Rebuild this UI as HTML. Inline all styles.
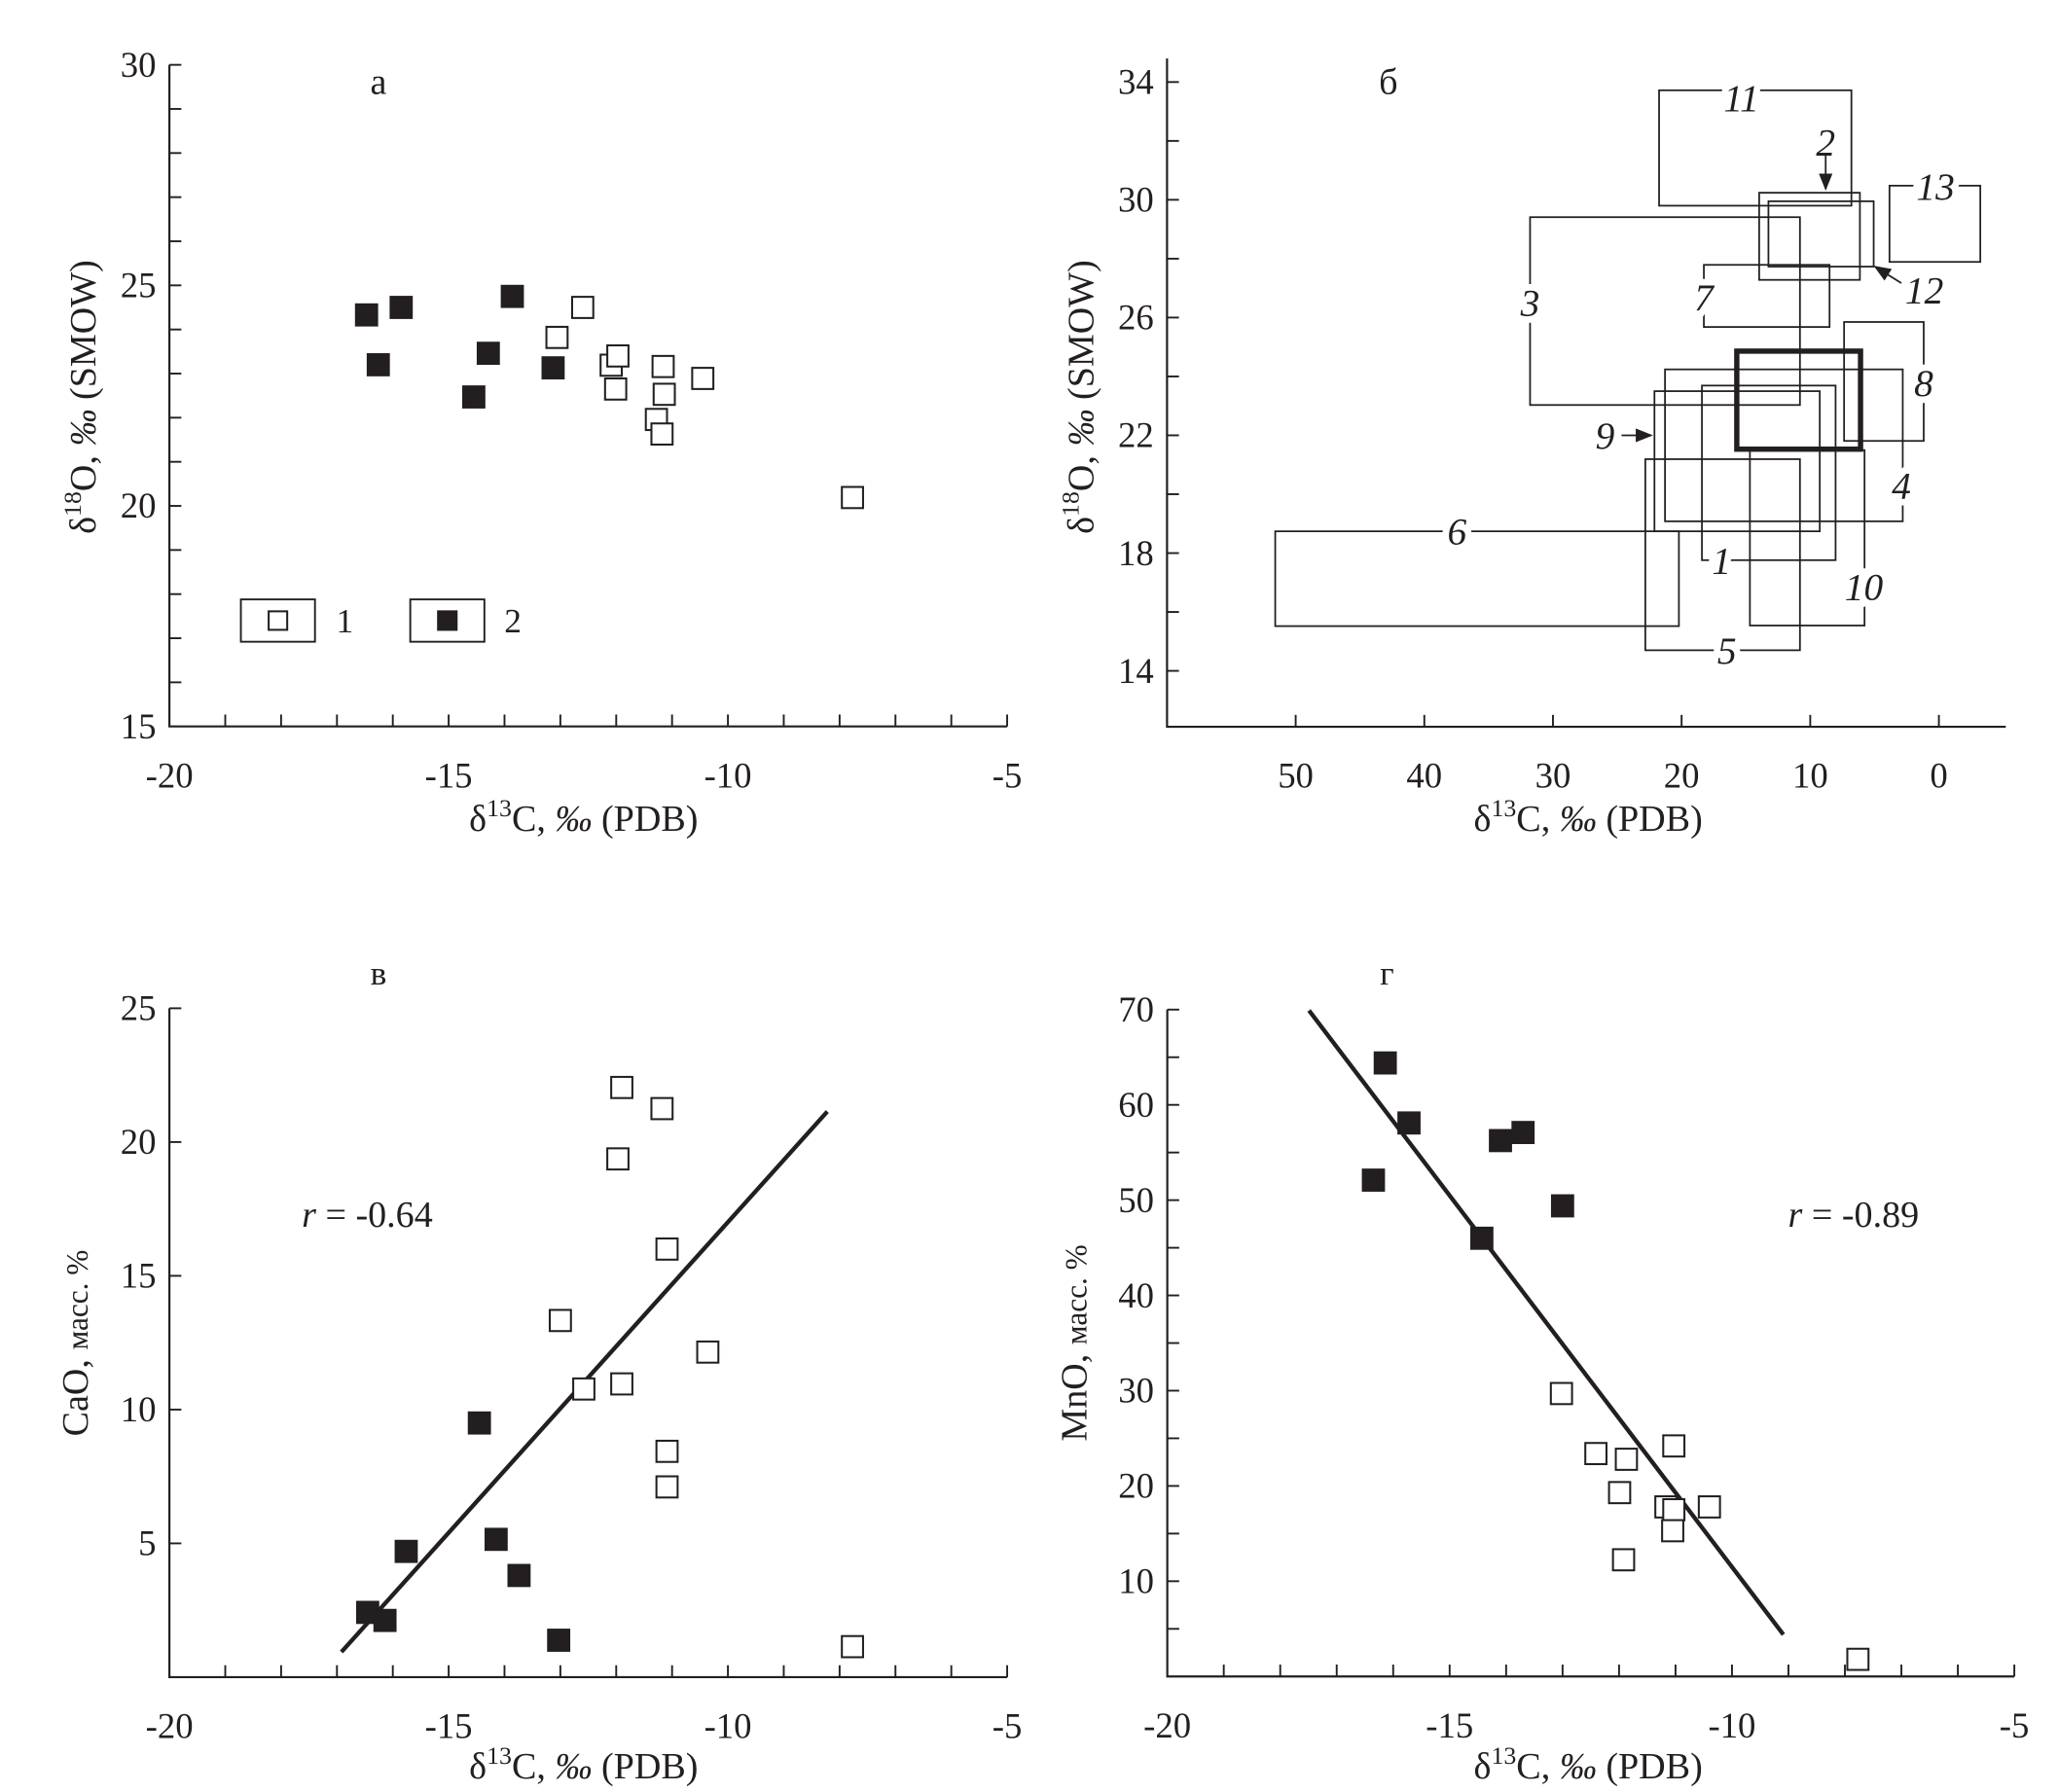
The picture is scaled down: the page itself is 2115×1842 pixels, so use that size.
<!DOCTYPE html>
<html><head><meta charset="utf-8">
<style>
html,body{margin:0;padding:0;background:#fff;}
svg{display:block;}
text{font-family:"Liberation Serif","DejaVu Serif",serif;fill:#231f20;}
</style></head>
<body>
<svg id="fig" xmlns="http://www.w3.org/2000/svg" width="2115" height="1842" viewBox="0 0 1555 1354.3" preserveAspectRatio="none"></svg>
<script>
// ---------- Data: panel a (d13C vs d18O) ----------
const aOpenX = [-12.6,-13.06,-12.09,-11.97,-12.01,-11.16,-11.14,-10.45,-11.28,-11.18,-7.77];
const aOpenY = [24.5,23.82,23.19,23.4,22.65,23.16,22.53,22.89,21.96,21.63,20.19];
const aFillX = [-16.47,-15.85,-16.26,-13.86,-14.29,-13.13,-14.55];
const aFillY = [24.33,24.5,23.2,24.75,23.46,23.13,22.47];
// ---------- Data: panel б (ranges) ----------
const bNames = ["11","2","12","13","3","7","8","main","4","1","9","5","10","6"];
const bX1 = [21.75,13.97,13.25,3.84,31.78,18.27,7.37,15.71,21.29,18.42,22.11,22.82,14.69,51.59];
const bX2 = [6.8,6.14,5.07,-3.22,10.8,8.5,1.18,6.09,2.81,8.03,9.26,10.8,5.78,20.21];
const bY1 = [33.72,30.24,29.95,30.48,29.41,27.79,25.85,24.86,24.24,23.69,23.5,21.19,21.5,18.74];
const bY2 = [29.8,27.28,27.73,27.89,23.03,25.68,21.81,21.53,19.08,17.76,18.74,14.7,15.54,15.52];
const bLabelText = ["11","2","12","13","3","7","8","4","1","9","5","10","6"];
const bLabelX = [15.35,8.8,1.13,0.26,31.78,18.27,1.18,2.92,16.89,25.95,16.48,5.83,37.46];
const bLabelY = [33.47,31.97,26.94,30.46,26.51,26.7,23.78,20.3,17.76,22.0,14.7,16.86,18.74];
// ---------- Data: panel в (CaO) ----------
const cOpenX = [-11.9,-11.18,-11.97,-11.09,-13.0,-10.36,-12.58,-11.9,-11.09,-11.09,-7.77];
const cOpenY = [22.04,21.25,19.37,16.0,13.33,12.15,10.77,10.96,8.44,7.11,1.14];
const cFillX = [-16.45,-16.14,-15.76,-14.45,-14.15,-13.74,-13.03];
const cFillY = [2.42,2.12,4.7,9.5,5.15,3.8,1.38];
const cLineX = [-16.92,-8.22];
const cLineY = [0.94,21.14];
// ---------- Data: panel г (MnO) ----------
const dOpenX = [-13.02,-12.41,-11.87,-11.03,-11.99,-11.17,-11.03,-10.4,-11.05,-11.92,-7.77];
const dOpenY = [29.7,23.4,22.8,24.2,19.3,17.8,17.5,17.8,15.3,12.25,1.8];
const dFillX = [-16.14,-15.72,-16.35,-14.1,-13.7,-13.0,-14.43];
const dFillY = [64.4,58.1,52.1,56.25,57.1,49.4,46.0];
const dLineX = [-17.49,-9.09];
const dLineY = [69.9,4.4];
// tick labels
const xTicksC = [-20,-15,-10,-5];
const xTicksB = [50,40,30,20,10,0];
const yTicksA = [15,20,25,30];
const yTicksB = [14,18,22,26,30,34];
const yTicksC = [5,10,15,20,25];
const yTicksD = [10,20,30,40,50,60,70];

const svg = document.getElementById('fig');
const NS = 'http://www.w3.org/2000/svg';
function el(tag, attrs, parent){
  const e = document.createElementNS(NS, tag);
  for (const k in attrs) e.setAttribute(k, attrs[k]);
  (parent||svg).appendChild(e);
  return e;
}
function lin(d0,d1,r0,r1){return v => r0 + (v-d0)*(r1-r0)/(d1-d0);}

const ax = {
  a:{x:lin(-20,-5,128,761), y:lin(15,30,549,49)},
  b:{x:lin(0,50,1465,979), y:lin(14,34,507,62)},
  c:{x:lin(-20,-5,128,761), y:lin(0,25,1267.5,762)},
  d:{x:lin(-20,-5,882,1522), y:lin(0,70,1267,763)}
};

function axes(g, xs, ys, x0, x1, yb, yt, xMaj, xMin, yMaj, yMin){
  const a = el('path',{d:`M${xs(x0)},${ys(yt)} V${ys(yb)} H${xs(x1)}`,fill:'none',stroke:'#231f20','stroke-width':1.6},g);
  
  
  const X0 = xs(x0), Y0 = ys(yb);
  xMin.forEach(v=>{ el('line',{x1:xs(v),x2:xs(v),y1:Y0,y2:Y0-9,stroke:'#231f20','stroke-width':1.4},g); });
  yMin.forEach(v=>{ el('line',{x1:X0,x2:X0+9,y1:ys(v),y2:ys(v),stroke:'#231f20','stroke-width':1.4},g); });
  xMaj.forEach(v=>{
    const t = el('text',{x:xs(v),y:Y0+46,'text-anchor':'middle','font-size':27},g);
    t.textContent = (v<0?'-'+(-v):v);
    
    
  });
  yMaj.forEach(v=>{
    const t = el('text',{x:X0-10,y:ys(v)+9,'text-anchor':'end','font-size':27},g);
    t.textContent = v;
    
    
  });
}
function rng(a,b,s){const r=[];for(let v=a;v<=b+1e-9;v+=s)r.push(+v.toFixed(3));return r;}

function squares(g, xs, ys, X, Y, filled){
  X.forEach((v,i)=>{
    const r = el('rect',{x:xs(v)-8,y:ys(Y[i])-8,width:16,height:16,
      fill: filled?'#231f20':'#fff', stroke:'#231f20','stroke-width':1.5},g);
    
    
  });
}

// ---------- Panel a ----------
const ga = el('g',{});


axes(ga, ax.a.x, ax.a.y, -20,-5,15,30, xTicksC, rng(-19,-5,1), yTicksA, rng(16,30,1));
squares(ga, ax.a.x, ax.a.y, aFillX, aFillY, true);
squares(ga, ax.a.x, ax.a.y, aOpenX, aOpenY, false);
{
  const l1 = el('rect',{x:182,y:453,width:56,height:32,fill:'none',stroke:'#231f20','stroke-width':1.4},ga);
   
  el('rect',{x:203,y:462,width:14,height:14,fill:'#fff',stroke:'#231f20','stroke-width':1.5},ga);
  const t1 = el('text',{x:254,y:478,'font-size':26},ga); t1.textContent='1';
   
  const l2 = el('rect',{x:310,y:453,width:56,height:32,fill:'none',stroke:'#231f20','stroke-width':1.4},ga);
   
  el('rect',{x:331,y:462,width:14,height:14,fill:'#231f20',stroke:'#231f20','stroke-width':1.5},ga);
  const t2 = el('text',{x:381,y:478,'font-size':26},ga); t2.textContent='2';
   
}

// ---------- Panel б ----------
const gb = el('g',{});


axes(gb, ax.b.x, ax.b.y, 60,-5.2,12.1,34.8, xTicksB, xTicksB, yTicksB, rng(14,34,2));
bNames.forEach((n,i)=>{
  const x1=ax.b.x(bX1[i]), x2=ax.b.x(bX2[i]), y1=ax.b.y(bY1[i]), y2=ax.b.y(bY2[i]);
  const r = el('rect',{x:Math.min(x1,x2),y:Math.min(y1,y2),width:Math.abs(x2-x1),height:Math.abs(y2-y1),
    fill:'none',stroke:'#231f20','stroke-width': n==='main'?4:1.3},gb);
  
  
});
bLabelText.forEach((s,i)=>{
  const t = el('text',{x:ax.b.x(bLabelX[i]),y:ax.b.y(bLabelY[i])+10,'text-anchor':'middle','font-size':29,
    'font-style':'italic',stroke:'#fff','stroke-width':10,'paint-order':'stroke'},gb);
  t.textContent = s;
  
  
});
el('defs',{},gb).innerHTML='<marker id="ah" markerWidth="10" markerHeight="8" refX="9" refY="4" orient="auto"><path d="M0,0 L10,4 L0,8 z" fill="#231f20"/></marker>';
[[8.8,31.5,8.8,30.37],[2.92,27.17,4.96,27.73],[24.67,22.0,22.36,22.0]].forEach(a=>{
  const l = el('line',{x1:ax.b.x(a[0]),y1:ax.b.y(a[1]),x2:ax.b.x(a[2]),y2:ax.b.y(a[3]),stroke:'#231f20','stroke-width':1.3,'marker-end':'url(#ah)'},gb);
  
  
});

// ---------- Panel в ----------
const gc = el('g',{});


axes(gc, ax.c.x, ax.c.y, -20,-5,0,25, xTicksC, rng(-19,-5,1), yTicksC, yTicksC);
{
  const l = el('line',{x1:ax.c.x(cLineX[0]),y1:ax.c.y(cLineY[0]),x2:ax.c.x(cLineX[1]),y2:ax.c.y(cLineY[1]),stroke:'#231f20','stroke-width':3.2},gc);
   
}
squares(gc, ax.c.x, ax.c.y, cFillX, cFillY, true);
squares(gc, ax.c.x, ax.c.y, cOpenX, cOpenY, false);

// ---------- Panel г ----------
const gd = el('g',{});


axes(gd, ax.d.x, ax.d.y, -20,-5,0,70, xTicksC, rng(-19,-5,1), yTicksD, rng(5,70,5));
{
  const l = el('line',{x1:ax.d.x(dLineX[0]),y1:ax.d.y(dLineY[0]),x2:ax.d.x(dLineX[1]),y2:ax.d.y(dLineY[1]),stroke:'#231f20','stroke-width':3.2},gd);
   
}
squares(gd, ax.d.x, ax.d.y, dFillX, dFillY, true);
squares(gd, ax.d.x, ax.d.y, dOpenX, dOpenY, false);

// ---------- static labels ----------
function txt(name, html, attrs){
  const t=document.createElementNS(NS,'text');
  for(const k in attrs) t.setAttribute(k,attrs[k]);
  t.innerHTML=html;
  
  
  svg.appendChild(t);
}
const sup='<tspan dy="-11" font-size="19">';
txt('panel-label-a','а',{x:286,y:71,'text-anchor':'middle','font-size':28});
txt('panel-label-b','б',{x:1049,y:71,'text-anchor':'middle','font-size':28});
txt('panel-label-v','в',{x:286,y:744,'text-anchor':'middle','font-size':26});
txt('panel-label-g','г',{x:1048,y:744,'text-anchor':'middle','font-size':26});
const xt='δ'+sup+'13</tspan><tspan dy="11">C, </tspan><tspan font-style="italic">‰</tspan> (PDB)';
txt('x-axis-title-a',xt,{x:441,y:628,'text-anchor':'middle','font-size':28});
txt('x-axis-title-b',xt,{x:1200,y:628,'text-anchor':'middle','font-size':28});
txt('x-axis-title-v',xt,{x:441,y:1344,'text-anchor':'middle','font-size':28});
txt('x-axis-title-g',xt,{x:1200,y:1344,'text-anchor':'middle','font-size':28});
const yt='δ'+sup+'18</tspan><tspan dy="11">O, </tspan><tspan font-style="italic">‰</tspan> (SMOW)';
txt('y-axis-title-a',yt,{x:0,y:0,'text-anchor':'middle','font-size':28,transform:'translate(72,300) rotate(-90)'});
txt('y-axis-title-b',yt,{x:0,y:0,'text-anchor':'middle','font-size':28,transform:'translate(826,300) rotate(-90)'});
txt('y-axis-title-v','CaO, <tspan font-size="23">масс. %</tspan>',{x:0,y:0,'text-anchor':'middle','font-size':28,transform:'translate(66,1015) rotate(-90)'});
txt('y-axis-title-g','MnO, <tspan font-size="23">масс. %</tspan>',{x:0,y:0,'text-anchor':'middle','font-size':28,transform:'translate(821,1015) rotate(-90)'});
txt('r-value-v','<tspan font-style="italic">r</tspan> = -0.64',{x:228,y:927,'font-size':28});
txt('r-value-g','<tspan font-style="italic">r</tspan> = -0.89',{x:1351,y:927,'font-size':28});
</script>
</body></html>
